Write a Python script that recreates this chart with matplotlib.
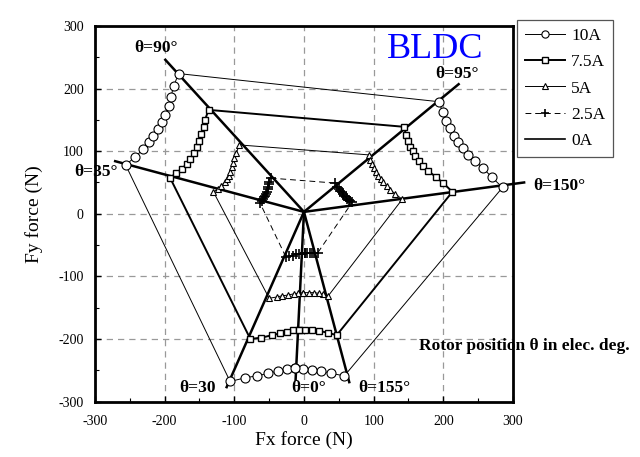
import matplotlib
matplotlib.use('Agg')
import matplotlib.pyplot as plt
from matplotlib.ticker import MultipleLocator

plt.rcParams['font.family'] = ['Liberation Serif', 'DejaVu Serif']
plt.rcParams['axes.unicode_minus'] = False

# rotor position 0..180 deg in 5 deg steps
theta = list(range(0, 181, 5))

# 10A
fx_10 = [-13, -25, -37, -51, -68, -84, -106,
         -256, -242, -231, -222, -216, -210, -204, -200, -194, -191, -187, -180,
         194, 199, 204, 209, 215, 221, 228, 236, 246, 257, 270, 285,
         58, 39, 24, 11, -1, -13]
fy_10 = [-247, -248, -251, -255, -259, -262, -268,
         78, 91, 103, 114, 124, 135, 146, 158, 172, 187, 204, 224,
         179, 162, 149, 137, 125, 114, 105, 94, 84, 73, 58, 42,
         -259, -255, -251, -249, -248, -247]

# 7.5A
fx_75 = [-7, -16, -25, -34, -46, -61, -77,
         -192, -184, -175, -168, -163, -158, -154, -151, -148, -144, -142, -137,
         143, 147, 149, 152, 156, 160, 165, 171, 178, 189, 200, 213,
         47, 34, 21, 11, 2, -7]
fy_75 = [-186, -186, -189, -191, -194, -198, -200,
         57, 65, 72, 80, 88, 97, 106, 116, 127, 138, 150, 166,
         139, 126, 116, 107, 100, 92, 84, 77, 69, 59, 49, 35,
         -194, -190, -187, -186, -186, -186]

# 5A
fx_5 = [-1, -8, -15, -23, -31, -39, -50,
        -130, -123, -119, -114, -111, -108, -106, -104, -102, -100, -97, -93,
        94, 95, 97, 100, 103, 106, 110, 114, 119, 124, 131, 141,
        35, 28, 21, 14, 7, -1]
fy_5 = [-126, -127, -128, -130, -131, -133, -135,
        35, 40, 45, 50, 55, 61, 67, 74, 81, 89, 97, 110,
        94, 86, 79, 73, 67, 61, 56, 50, 44, 38, 32, 23,
        -131, -129, -127, -126, -126, -126]

# 2.5A
fx_25 = [1, -3, -7, -12, -16, -21, -26,
         -63, -60, -59, -57, -56, -55, -53, -52, -51, -50, -50, -48,
         45, 47, 50, 52, 54, 56, 58, 60, 62, 64, 66, 69,
         20, 15, 11, 8, 4, 1]
fy_25 = [-63, -64, -64, -65, -67, -68, -69,
         17, 20, 23, 26, 28, 32, 35, 39, 43, 47, 51, 57,
         49, 43, 40, 36, 34, 31, 28, 26, 24, 22, 20, 18,
         -62, -63, -63, -63, -63, -63]

# 0A (cogging, essentially at the origin)
fx_0 = [0, 0]
fy_0 = [3, 3]

# reference lines from the origin at given rotor positions
ray_labels = ['θ=0°', 'θ=30', 'θ=35°', 'θ=90°', 'θ=95°', 'θ=150°', 'θ=155°']
ray_x = [-12, -111, -271, -199, 222, 316, 65]
ray_y = [-265, -277, 84, 246, 207, 50, -269]
label_x = [6, -153, -298, -213, 219, 366, 115]
label_y = [-278, -278, 67, 265, 224, 44, -278]

fig = plt.figure(figsize=(6.4, 4.57), dpi=100)
ax = fig.add_axes([0.1484, 0.1214, 0.6531, 0.8217])

for rx, ry in zip(ray_x, ray_y):
    ax.plot([0, rx], [3, ry], color='black', lw=1.8, clip_on=False, zorder=3)

ax.plot(fx_10, fy_10, color='black', lw=0.7, marker='o', ms=6.5,
        mfc='white', mec='black', mew=0.8, label='10A', zorder=4)
ax.plot(fx_75, fy_75, color='black', lw=1.4, marker='s', ms=5,
        mfc='white', mec='black', mew=1.0, label='7.5A', zorder=4)
ax.plot(fx_5, fy_5, color='black', lw=0.7, marker='^', ms=5,
        mfc='white', mec='black', mew=0.8, label='5A', zorder=4)
ax.plot(fx_25, fy_25, color='black', lw=0.7, ls=(0, (6, 4)), marker='+', ms=7,
        mec='black', mew=1.2, label='2.5A', zorder=4)
ax.plot(fx_0, fy_0, color='black', lw=1.2, label='0A', zorder=4)

for t, lx, ly in zip(ray_labels, label_x, label_y):
    ax.text(lx, ly, t, ha='center', va='center', fontsize=12.5,
            fontweight='bold', zorder=5)

ax.text(189, 249, 'BLDC', color='#0000ff', fontsize=26, ha='center', va='baseline')
ax.text(316, -212, 'Rotor position θ in elec. deg.', fontsize=12.5,
        fontweight='bold', ha='center', va='center')

ax.set_xlim(-300, 300)
ax.set_ylim(-300, 300)
ax.xaxis.set_major_locator(MultipleLocator(100))
ax.yaxis.set_major_locator(MultipleLocator(100))
ax.xaxis.set_minor_locator(MultipleLocator(50))
ax.yaxis.set_minor_locator(MultipleLocator(50))
ax.tick_params(which='both', direction='in', labelsize=10)
ax.tick_params(which='major', length=4, width=1)
ax.tick_params(axis='x', which='major', pad=10)
ax.tick_params(axis='y', which='major', pad=8)
ax.tick_params(which='minor', length=3, width=0.8)
ax.grid(True, which='major', ls=(0, (5, 4)), color='#999999', lw=0.9)
for s in ax.spines.values():
    s.set_linewidth(2)

ax.set_xlabel('Fx force (N)', fontsize=14)
ax.set_ylabel('Fy force (N)', fontsize=14)
ax.xaxis.set_label_coords(0.5, -0.08)
ax.yaxis.set_label_coords(-0.124, 0.5)

leg = fig.legend(loc='upper left', bbox_to_anchor=(0.795, 0.975),
                 fontsize=12.5, fancybox=False, edgecolor='#555555',
                 framealpha=1, labelspacing=0.58, handlelength=2.3,
                 handletextpad=0.35, borderpad=0.45, markerscale=0.8)
leg.get_frame().set_linewidth(0.9)

plt.savefig('out.png', dpi=100)
plt.close()
